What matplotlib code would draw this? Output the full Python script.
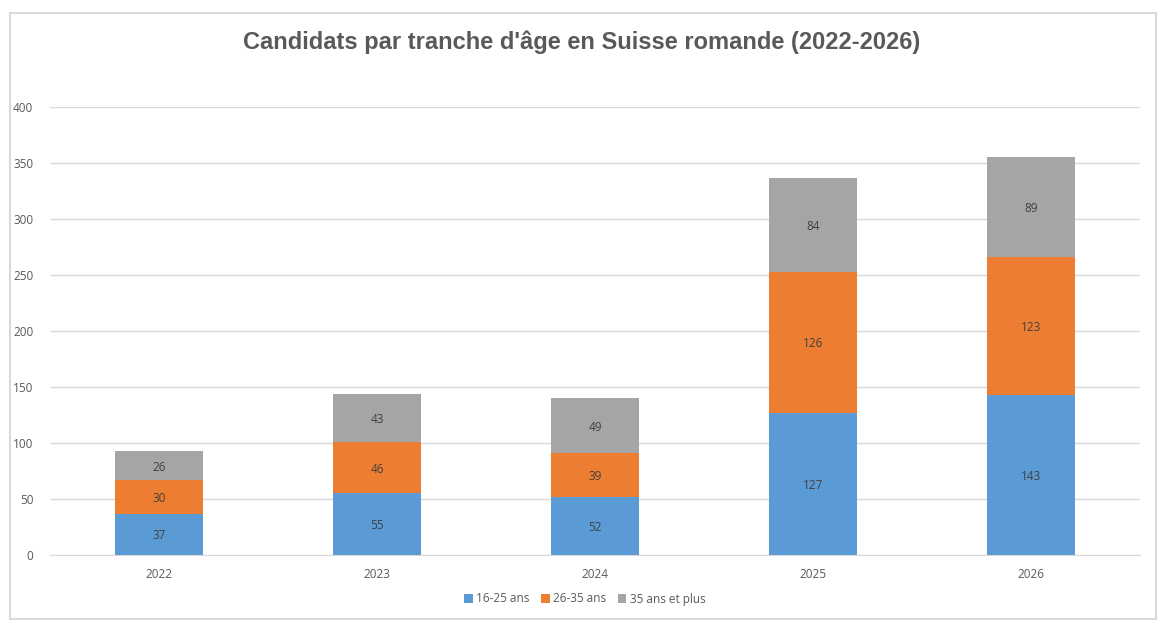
import matplotlib
matplotlib.use("Agg")
import matplotlib.pyplot as plt
from matplotlib.patches import Rectangle
from matplotlib import font_manager
import numpy as np

years = ["2022", "2023", "2024", "2025", "2026"]
series_names = ["16-25 ans", "26-35 ans", "35 ans et plus"]
v_16_25 = [37, 55, 52, 127, 143]
v_26_35 = [30, 46, 39, 126, 123]
v_35_plus = [26, 43, 49, 84, 89]
yticks = [0, 50, 100, 150, 200, 250, 300, 350, 400]
title = "Candidats par tranche d'âge en Suisse romande (2022-2026)"

colors = ["#5B9BD5", "#ED7D31", "#A5A5A5"]

names = {f.name for f in font_manager.fontManager.ttflist}
narrow = "Liberation Sans Narrow" if "Liberation Sans Narrow" in names else "Liberation Sans"
body = "Open Sans"
plt.rcParams['font.family'] = [body, 'DejaVu Sans']

fig = plt.figure(figsize=(11.7, 6.32), dpi=100)
fig.patch.set_facecolor("white")
# chart border
fig.patches.append(Rectangle((10/1170, 1-619/632), 1146/1170, 606/632, transform=fig.transFigure,
                             fill=False, edgecolor="#D9D9D9", linewidth=1.5))

ax = fig.add_axes([50/1170, 1-555/632, 1090/1170, 448/632])
x = np.arange(len(years))
bottom = np.zeros(len(years))
for name, vals, c in zip(series_names, [v_16_25, v_26_35, v_35_plus], colors):
    vals = np.array(vals, dtype=float)
    bars = ax.bar(x, vals, width=0.4, bottom=bottom, color=c, label=name, zorder=3)
    for xi, b, v in zip(x, bottom, vals):
        ax.text(xi, b + v/2 - 1.5, f"{int(v)}", ha="center", va="center", fontsize=8.5, color="#404040", zorder=4)
    bottom += vals

ax.set_xlim(-0.5, len(years)-0.5)
ax.set_ylim(0, 400)
ax.set_yticks(yticks)
ax.set_xticks(x)
ax.set_xticklabels(years)
ax.grid(axis="y", color="#D9D9D9", linewidth=1, zorder=0)
for s in ["top", "right", "left"]:
    ax.spines[s].set_visible(False)
ax.spines["bottom"].set_color("#D9D9D9")
ax.tick_params(axis="both", length=0, labelsize=8.5, labelcolor="#595959")
ax.tick_params(axis="y", pad=12)
ax.tick_params(axis="x", pad=9)

fig.text(582/1170, 1-42/632, title, ha="center", va="center", fontsize=17, fontweight="bold",
         color="#595959", family=[narrow, "DejaVu Sans"])

leg = fig.legend(loc="center", bbox_to_anchor=(585/1170, 1-599/632), ncol=3, frameon=False,
                 fontsize=8.5, handlelength=0.7, handleheight=0.7, handletextpad=0.3, columnspacing=1.0,
                 labelcolor="#595959")

fig.savefig("out.png", dpi=100)
